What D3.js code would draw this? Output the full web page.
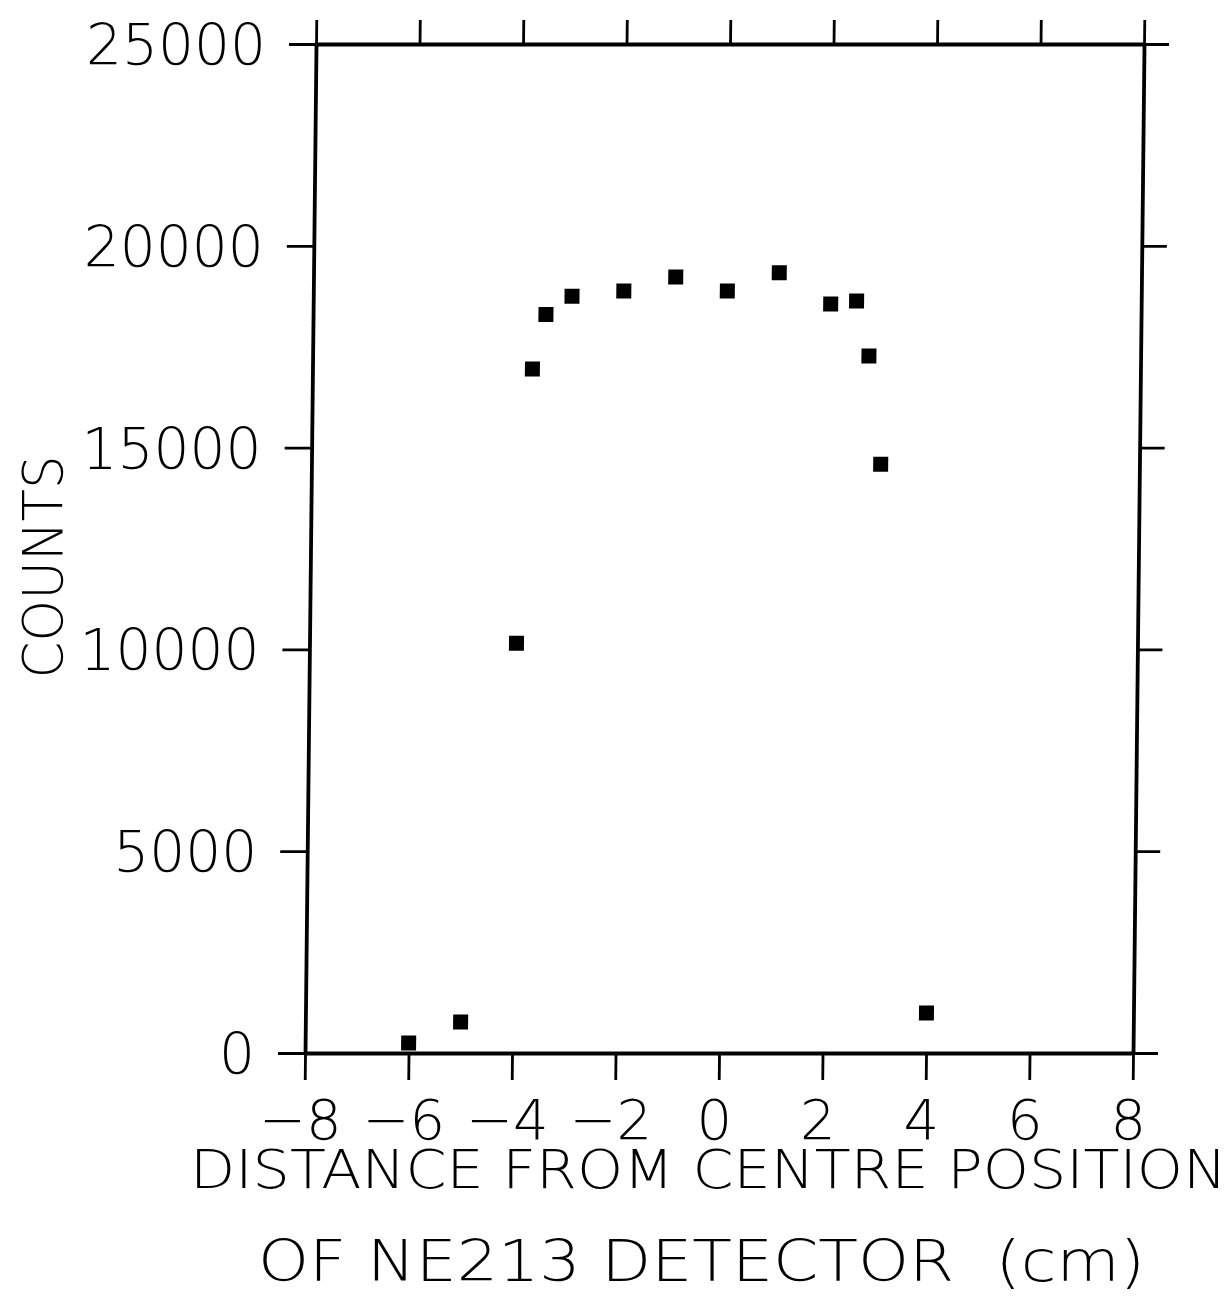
<!DOCTYPE html>
<html>
<head>
<meta charset="utf-8">
<script src="https://cdn.jsdelivr.net/npm/d3@7"></script>
<style>
  html, body { margin: 0; padding: 0; background: #fff; }
  svg { display: block; }
  text { font-family: "DejaVu Sans", sans-serif; font-weight: 200; fill: #000; }
</style>
</head>
<body>
<div id="chart"></div>
<script>
// ---- data ----
const distance = [-6, -5, -4, -3.75, -3.5, -3, -2, -1, 0, 1, 2, 2.5, 2.75, 3, 4];
const counts   = [250, 770, 10150, 16950, 18300, 18750, 18880, 19230, 18880, 19330, 18560, 18630, 17270, 14590, 990];
const xTicks = [-8, -6, -4, -2, 0, 2, 4, 6, 8];
const yTicks = [0, 5000, 10000, 15000, 20000, 25000];
const xTitle1 = "DISTANCE FROM CENTRE POSITION";
const xTitle2 = "OF NE213 DETECTOR  (cm)";
const yTitle = "COUNTS";

// ---- layout ----
const W = 1231, H = 1298;
const K = -0.0109;               // slight shear of the scanned frame
const sk = (x, y) => x + K * y;  // sheared x position

const x = d3.scaleLinear().domain([-8, 8]).range([316.5, 1144.5]);
const y = d3.scaleLinear().domain([0, 25000]).range([1053, 44]);

const svg = d3.select("#chart").append("svg")
  .attr("width", W).attr("height", H)
  .attr("viewBox", `0 0 ${W} ${H}`);
svg.append("rect").attr("width", W).attr("height", H).attr("fill", "#fff");

const g = svg.append("g").attr("transform", `matrix(1,0,${K},1,0,0)`);

function styleAxis(sel) {
  sel.selectAll("path.domain").attr("stroke", "#000").attr("stroke-width", 3.8);
  sel.selectAll(".tick line").attr("stroke", "#000").attr("stroke-width", 2.8);
  sel.selectAll(".tick text").remove();
}

g.append("g").attr("transform", `translate(0,${y(0)})`)
  .call(d3.axisBottom(x).tickValues(xTicks).tickSize(27).tickSizeOuter(0))
  .call(styleAxis);
g.append("g").attr("transform", `translate(0,${y(25000)})`)
  .call(d3.axisTop(x).tickValues(xTicks).tickSize(24).tickSizeOuter(0))
  .call(styleAxis);
g.append("g").attr("transform", `translate(${x(-8)},0)`)
  .call(d3.axisLeft(y).tickValues(yTicks).tickSize(27).tickSizeOuter(0))
  .call(styleAxis);
g.append("g").attr("transform", `translate(${x(8)},0)`)
  .call(d3.axisRight(y).tickValues(yTicks).tickSize(25).tickSizeOuter(0))
  .call(styleAxis);

// data markers
const pts = distance.map((d, i) => ({ d, c: counts[i] }));
const S = 15;
g.append("g").selectAll("rect").data(pts).join("rect")
  .attr("x", p => x(p.d) - S / 2)
  .attr("y", p => y(p.c) - S / 2)
  .attr("width", S).attr("height", S)
  .attr("fill", "#000");

// y tick labels
svg.append("g").selectAll("text").data(yTicks).join("text")
  .attr("x", v => sk(x(-8) - 50, y(v)))
  .attr("y", v => y(v) + 21)
  .attr("text-anchor", "end")
  .attr("font-size", 57)
  .attr("textLength", v => String(v).length * 36)
  .attr("lengthAdjust", "spacingAndGlyphs")
  .text(v => String(v));

// x tick labels
svg.append("g").selectAll("text").data(xTicks).join("text")
  .attr("x", v => sk(x(v), 1119) - 4)
  .attr("y", 1139)
  .attr("text-anchor", "middle")
  .attr("font-size", 56)
  .text(v => v < 0 ? "\u2212" + Math.abs(v) : String(v));

// axis titles
svg.append("text")
  .attr("x", 190).attr("y", 1188)
  .attr("font-size", 54)
  .attr("textLength", 1037).attr("lengthAdjust", "spacingAndGlyphs")
  .text(xTitle1);
svg.append("text")
  .attr("x", 258).attr("y", 1281)
  .attr("font-size", 57)
  .attr("textLength", 887).attr("lengthAdjust", "spacingAndGlyphs")
  .style("white-space", "pre")
  .text(xTitle2);
svg.append("text")
  .attr("transform", "translate(62,567) rotate(-90)")
  .attr("text-anchor", "middle")
  .attr("font-size", 55)
  .attr("textLength", 223).attr("lengthAdjust", "spacingAndGlyphs")
  .text(yTitle);
</script>
</body>
</html>
